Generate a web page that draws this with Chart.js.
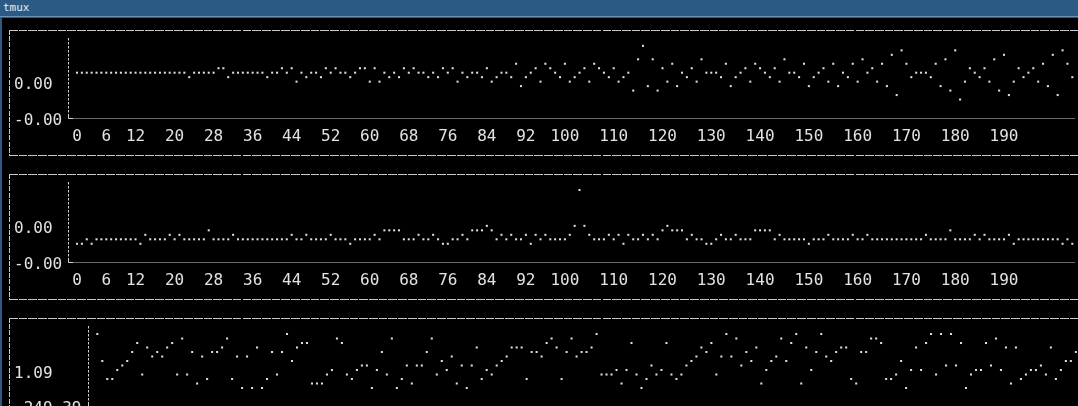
<!DOCTYPE html>
<html>
<head>
<meta charset="utf-8">
<script src="https://cdn.jsdelivr.net/npm/chart.js@4.4.1/dist/chart.umd.min.js"></script>
<style>
html,body{margin:0;padding:0;width:1078px;height:406px;overflow:hidden;background:#2b5a84;}
#bar{position:absolute;left:0;top:0;width:1078px;height:16px;background:#2b5a84;border-bottom:1px solid #6a91b6;color:#e8eef4;font:11px "DejaVu Sans Mono",monospace;line-height:16px;padding-left:3px;box-sizing:content-box;}
#term{position:absolute;left:2px;top:18px;width:1076px;height:388px;background:#000;}
.h{position:absolute;height:1px;background:repeating-linear-gradient(to right,#c8c8c8 0 8.7px,rgba(0,0,0,0) 8.7px 9.73px);}
.v{position:absolute;width:1px;background:repeating-linear-gradient(to bottom,#c8c8c8 0 5px,rgba(0,0,0,0) 5px 6.2px);}
canvas{position:absolute;left:0;}
</style>
</head>
<body>
<div id="bar">tmux</div>
<div id="term"></div>
<div class="h" style="left:9px;top:30px;width:1069px"></div>
<div class="v" style="left:9px;top:30px;height:125px"></div>
<div class="h" style="left:9px;top:155px;width:1069px"></div>
<div class="h" style="left:9px;top:174px;width:1069px"></div>
<div class="v" style="left:9px;top:174px;height:125px"></div>
<div class="h" style="left:9px;top:299px;width:1069px"></div>
<div class="h" style="left:9px;top:318px;width:1069px"></div>
<div class="v" style="left:9px;top:318px;height:88px"></div>
<canvas id="c1" width="1078" height="140" style="top:20px"></canvas>
<canvas id="c2" width="1078" height="140" style="top:164px"></canvas>
<canvas id="c3" width="1078" height="140" style="top:308px"></canvas>
<script>
// ---- data (levels) ----
const xTickLabels = ["0","6","12","20","28","36","44","52","60","68","76","84","92","100","110","120","130","140","150","160","170","180","190"];

const series1 = [
0,0,0,0,0,0,0,0,0,0,0,0,0,0,0,0,0,0,0,0,0,0,0,
-1,0,0,0,0,0,1,1,-1,0,0,0,0,0,0,0,-1,0,0,
1,0,1,-2,0,-1,0,0,-1,1, 0,1,0,0,-1,0,1,1,-2,1, -2,0,-1,0,-1,1,0,1,0,0,
-1,0,-1,1,0,1,-2,0,-1,0, 0,-1,1,-2,-1,0,0,-1,2,-3, -1,0,1,-2,
2,1,0,-1,2,-2,-1,0,1,-2, 2,1,0,-1,1,-2,-1,0,-4,3, 6,-3,3,-4,1,-2,2,-3,0,-1,
1,-2,3,0,0,0, -1,2,-3,-1,0, 1,-2,2,1,0,-1,1,-2,3,0, 0,-1,2,-3,-1,0,1,-2,2,-3,
0,-1,2,-2,3,0,1,-2,2,-3, 4,-5,5,2,-1,0,0,0, -1,2,-3, 3,-4,5,-6,-2,1,0,-1,1,-2,
3,-4,4,-5,-2,1,-1,0,1,-2, 2,-3,4,-5,5,2,-1
];

const series2 = [
-1,-1,0,-1,0,0,0,0,0,0,0,0,0,-1,1,0,0,0,0,1,0,1,0,0,0,0,0,2,0,0,0,0,1,
0,0,0,0,0,0,0,0,0,0,0,1,0,0,1,0,0,0,0,1,0,0,0,-1,0,0,0,0,
1,0,2,2,2,2,0,0,0,1,0,0,1,0,-1,-1,0,0,1,0,2,2,2,3,2,0,1,0,1,0,0,1,-1,1,0,1,0,0,0,0,1,
3,11,3,1,0,0,0,1,0,1,-1,1,0,0,1,0,1,0,2,3,2,2,2,0,1,0,0,-1,-1,0,1,0,0,1,0,0,0,2,2,2,2,0,1,
0,0,0,0,0,-1,0,0,0,1,0,0,0,0,1,0,0,1,0,
0,0,0,0,0,0,0,0,0,0,
1,0,0,0,0,2,0,0,0,0,1,0,1,0,0,0,0,1,-1,
0,0,0,0,0,0,0,0,0,-1,0,-1
];

const series3 = [
12,6,2,2,4,5,6,8,10,3, 9,7,8,7,9,10,3,11,3,8, 1,7,2,8,8,9,11,2,7,0,
7,0,9,0,2,8,3,8,12,6, 9,10,10,1,1,1,3,4,11,10, 3,2,4,5,5,0,4,8,3,11,
0,2,5,1,5,5,8,11,3,6, 4,7,1,5,0,5,9,2,4,3, 5,6,7,9,9,9,2,8,8,7,
10,11,9,2,8,11,7,
8,8,9,12,3,3,3,4,1,4, 10,3,0,2,5,3,4,10,3,2, 3,5,6,7,9,8,10,3,7,12,
7,11,5,8,6,9,1,4,6,7, 11,6,10,12,1,9,4,8,12,7, 6,8,9,9,2,1,8,8,11,11,
10,2,2,3,6,0,4,9,4,10, 12,3,12,5,12,5,10,0,3,4, 4,10,5,11,4,9,1,9,2,3,
4,4,5,3,9,2,4,6,6,8
];

const yTickLabels1 = ["-0.00","0.00"];
const yTickLabels2 = ["-0.00","0.00"];
const yTickLabels3 = ["-249.39","1.09"];

// ---- chart builder ----
const FONT = {family:"'DejaVu Sans Mono', monospace", size:16};
const TXT = '#e2e2e2';

// dashed y axis line and dotted x axis line, drawn along the chart area edges
const termAxes = {
  id:'termAxes',
  afterDraw(chart){
    const a = chart.chartArea, ctx = chart.ctx;
    const x = Math.round(a.left) + 0.5, y = Math.round(a.bottom) - 0.5;
    ctx.save();
    ctx.strokeStyle = '#d0d0d0';
    ctx.lineWidth = 1;
    ctx.setLineDash([2.5,1.5]);
    ctx.beginPath(); ctx.moveTo(x, a.top); ctx.lineTo(x, y - 2); ctx.stroke();
    ctx.setLineDash([]);
    ctx.beginPath(); ctx.moveTo(x, y - 4); ctx.lineTo(x, y); ctx.lineTo(x + 5, y); ctx.stroke();
    ctx.setLineDash([1,1]);
    ctx.beginPath(); ctx.moveTo(x + 6, y); ctx.lineTo(a.right, y); ctx.stroke();
    ctx.restore();
  }
};

function makeChart(id, series, cfg){
  const pts = series.map((v,i)=>({x:i, y:v}));
  return new Chart(document.getElementById(id), {
    type:'scatter',
    data:{datasets:[{data:pts, pointStyle:'rect', pointRadius:1.45, pointHoverRadius:1.45,
      backgroundColor:'#dedede', borderWidth:0, clip:false}]},
    plugins:[termAxes],
    options:{
      responsive:false, animation:false, events:[],
      layout:{padding:{left:14, right:cfg.padRight, top:18, bottom:0}},
      plugins:{legend:{display:false}, tooltip:{enabled:false}},
      scales:{
        x:{type:'linear', min:cfg.xMin, max:cfg.xMax,
          afterBuildTicks:s=>{ s.ticks = cfg.xLabels.map(t=>({value:Number(t)})); },
          afterFit:s=>{ s.height = 41.5; },
          grid:{display:false, drawTicks:false},
          border:{display:false},
          ticks:{display:cfg.xLabels.length>0, autoSkip:false, maxRotation:0, minRotation:0, padding:8.4,
            color:TXT, font:FONT, callback:(v,i)=>cfg.xLabels[i]}},
        y:{type:'linear', min:cfg.yMin, max:cfg.yMax,
          afterBuildTicks:s=>{ s.ticks = cfg.yVals.map(v=>({value:v})); },
          afterFit:s=>{ s.width = cfg.yWidth; },
          grid:{display:false, drawTicks:false},
          border:{display:false},
          ticks:{crossAlign:'far', padding:0, labelOffset:2, color:TXT, font:FONT, autoSkip:false,
            callback:(v,i)=>cfg.yLabels[i]}}
      }
    }
  });
}

makeChart('c1', series1, {xMin:-1.845, xMax:204.55, padRight:3, yWidth:54,
  yMin:-10.246, yMax:7.763, yVals:[-10.246,-2.371], yLabels:yTickLabels1, xLabels:xTickLabels});
makeChart('c2', series2, {xMin:-1.845, xMax:204.55, padRight:3, yWidth:54,
  yMin:-5.179, yMax:12.79, yVals:[-5.179,2.68], yLabels:yTickLabels2, xLabels:xTickLabels});
makeChart('c3', series3, {xMin:-1.8, xMax:196.14, padRight:0, yWidth:74.3,
  yMin:-4.111, yMax:13.78, yVals:[-4.111,3.667], yLabels:yTickLabels3, xLabels:[]});
</script>
</body>
</html>
